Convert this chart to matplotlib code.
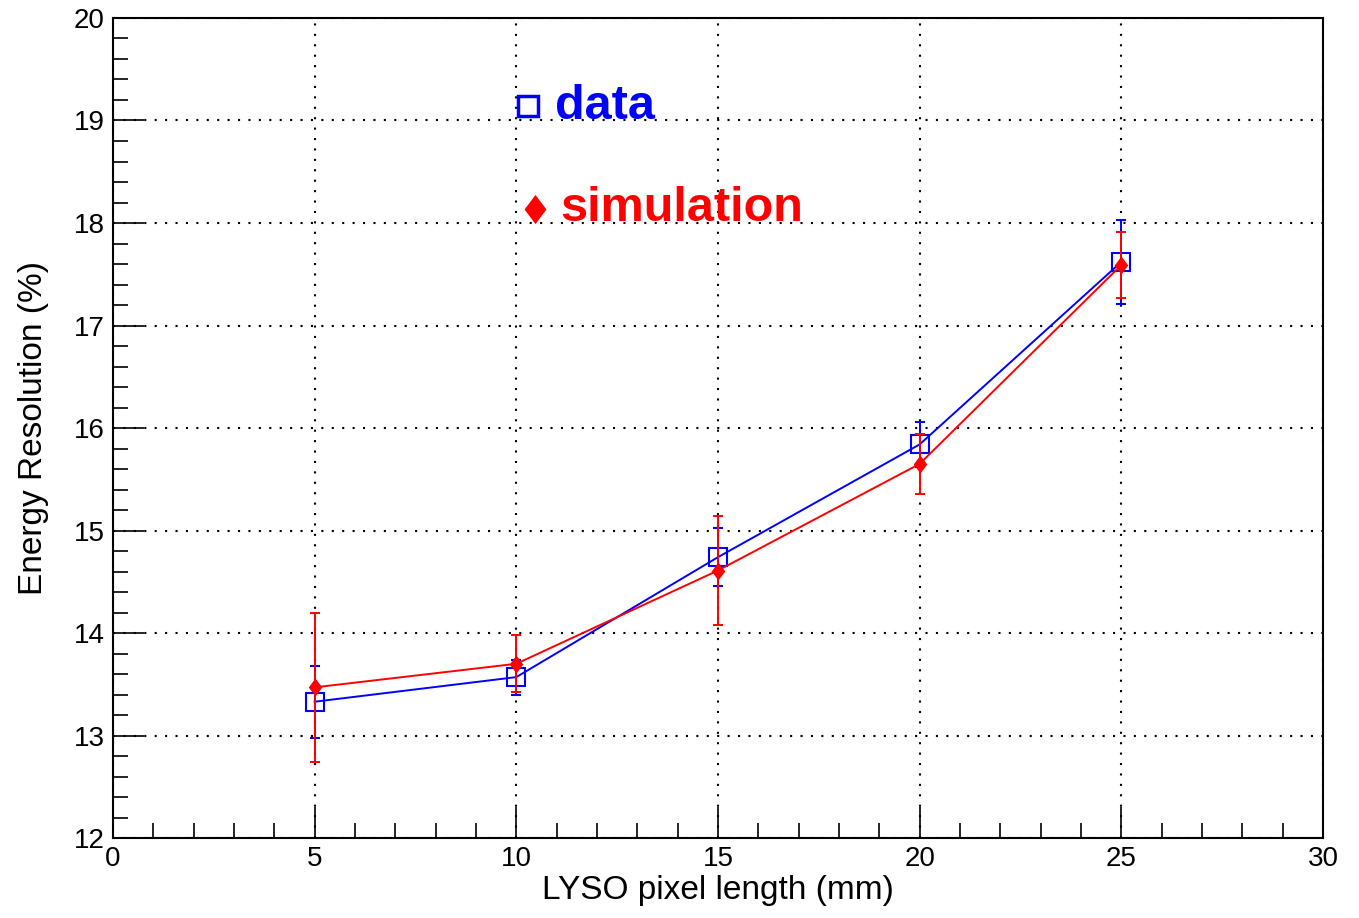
import numpy as np
import matplotlib.pyplot as plt
from matplotlib.ticker import MultipleLocator

plt.rcParams['font.family'] = ['Liberation Sans', 'DejaVu Sans']

# Data
length = [5, 10, 15, 20, 25]
data_res = [13.33, 13.57, 14.74, 15.84, 17.62]
data_err = [0.35, 0.17, 0.28, 0.22, 0.41]
sim_res = [13.47, 13.70, 14.61, 15.65, 17.59]
sim_err = [0.73, 0.28, 0.53, 0.29, 0.32]

# ROOT-style diamond (a bit wider than matplotlib's 'd')
diamond = [(0, 1), (0.75, 0), (0, -1), (-0.75, 0), (0, 1)]

fig = plt.figure(figsize=(13.59, 9.18), dpi=100)
ax = fig.add_axes([0.0831, 0.0871, 0.8904, 0.8933])

ax.errorbar(length, data_res, yerr=data_err, color='blue', marker='s', markersize=13,
            markerfacecolor='none', markeredgewidth=1.5, linewidth=1.4,
            capsize=3.5, capthick=1.4, elinewidth=1.4, zorder=3)
ax.errorbar(length, sim_res, yerr=sim_err, color='red', linewidth=1.4, capsize=3.5,
            capthick=1.4, elinewidth=1.4, zorder=4)
ax.plot(length, sim_res, linestyle='none', marker=diamond, markersize=13,
        color='red', markeredgewidth=0, zorder=5)

# legend-style labels inside the plot
ax.plot([10.29], [19.14], marker='s', markersize=15, markerfacecolor='none',
        markeredgecolor='blue', markeredgewidth=2.5, linestyle='none')
ax.text(10.95, 19.14, 'data', color='blue', fontsize=35, fontweight='bold', va='center')
ax.plot([10.46], [18.14], marker=diamond, markersize=21, color='red', markeredgewidth=0,
        linestyle='none')
ax.text(11.1, 18.14, 'simulation', color='red', fontsize=35, fontweight='bold', va='center')

ax.set_xlim(0, 30)
ax.set_ylim(12, 20)
ax.xaxis.set_major_locator(MultipleLocator(5))
ax.xaxis.set_minor_locator(MultipleLocator(1))
ax.yaxis.set_major_locator(MultipleLocator(1))
ax.yaxis.set_minor_locator(MultipleLocator(0.2))
ax.tick_params(which='both', direction='in', top=False, right=False, labelsize=20, width=1.2)
ax.tick_params(which='major', length=22, pad=6)
ax.tick_params(which='minor', length=11)
ax.grid(True, which='major', color='black', linestyle=(0, (1, 4)), linewidth=1.5)
for s in ax.spines.values():
    s.set_linewidth(1.5)

ax.set_xlabel('LYSO pixel length (mm)', fontsize=24, labelpad=2)
ax.set_ylabel('Energy Resolution (%)', fontsize=24, labelpad=18)

plt.savefig('out.png', dpi=100)
